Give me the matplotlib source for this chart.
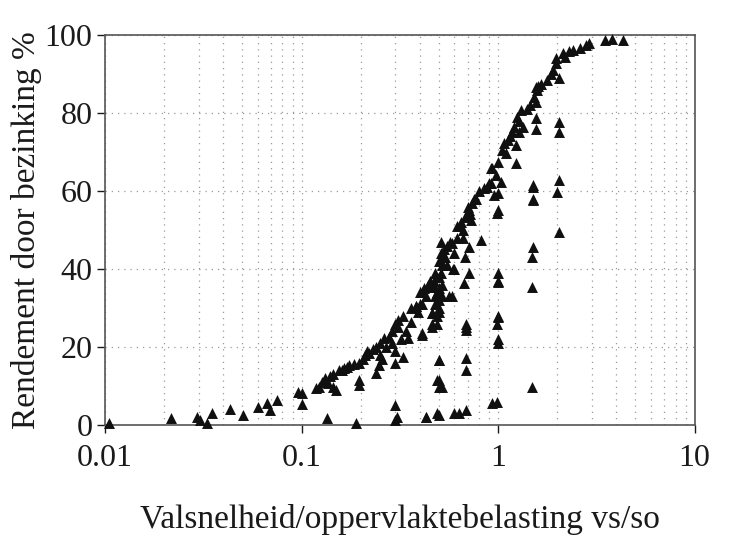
import matplotlib
matplotlib.use("Agg")
import matplotlib.pyplot as plt
from matplotlib.ticker import FixedLocator, NullFormatter

plt.rcParams['font.family'] = ['Liberation Serif', 'DejaVu Serif']

vs_so = [
    0.0105, 0.0216, 0.0293, 0.0304, 0.0329, 0.0349, 0.0431, 0.0502, 0.0598, 0.0664,
    0.0688, 0.0747, 0.0965, 0.100, 0.100, 0.119, 0.134, 0.19,
    0.123, 0.131, 0.136, 0.144, 0.150, 0.156, 0.165, 0.175, 0.185, 0.197,
    0.197, 0.197, 0.21, 0.216, 0.23, 0.24, 0.24, 0.248, 0.257, 0.264,
    0.28, 0.29, 0.30, 0.30, 0.30, 0.31, 0.32, 0.33, 0.34, 0.35,
    0.30, 0.30, 0.305, 0.36, 0.38, 0.40, 0.40, 0.41, 0.43, 0.46,
    0.46, 0.47, 0.48, 0.49, 0.50, 0.50, 0.50, 0.51, 0.56, 0.59, 0.60,
    0.43, 0.50, 0.63, 0.69, 0.93, 0.99,
    0.49, 0.52, 0.50, 0.69, 0.69, 0.69, 0.69, 0.69,
    1.0, 0.99, 1.0, 1.0, 1.0, 1.0, 1.0, 1.0,
    1.48, 1.48, 1.48, 1.50, 1.50, 1.50,
    0.46, 0.46, 0.46, 0.41, 0.41, 0.41,
    0.50, 0.50, 0.50, 0.50, 0.51, 0.52, 0.52, 0.53, 0.49, 0.48,
    0.58, 0.60, 0.67, 0.68, 0.71, 0.71, 0.58, 0.54, 0.66, 0.68,
    0.71, 0.73, 0.82, 0.77, 0.85, 0.92, 0.95, 1.0, 1.03, 1.0,
    0.99, 0.93, 1.0, 1.07, 1.10, 1.23, 1.23, 1.28,
    0.92, 1.05, 1.20, 1.28, 1.34, 1.31, 1.55, 1.55, 1.55,
    2.04, 2.04, 1.55, 1.58, 1.77, 2.04, 1.96, 1.98, 2.15, 2.2,
    2.4, 2.6, 2.8, 2.9, 3.5, 3.8, 4.3,
    2.04, 2.0, 2.04, 1.5, 1.5,
    0.55, 0.57, 0.62, 0.65, 0.75, 0.80, 0.90, 1.15, 1.40, 1.60, 1.90,
    0.44, 0.45, 0.42, 0.38, 0.33, 0.25, 0.22, 0.16, 0.14, 0.127,
    0.47, 0.53, 0.50, 0.48, 0.51, 0.64, 0.70, 0.74,
    0.49, 0.50, 0.51, 0.49, 0.52, 0.55, 0.60, 0.62, 0.66, 0.72,
    0.25, 0.27, 0.29, 0.31, 0.36, 0.39, 0.43, 0.88, 0.97, 1.12,
    1.18, 1.25, 1.45, 1.52, 1.65, 1.85, 2.3, 0.145, 0.17, 0.205,
]
rendement = [
    0.5, 1.8, 2.0, 1.3, 0.5, 3.0, 4.0, 2.6, 4.6, 5.6,
    3.8, 6.4, 8.5, 5.4, 8.2, 9.5, 1.8, 0.5,
    9.7, 12.0, 10.8, 9.7, 9.0, 14.0, 14.5, 15.4, 15.7, 16.0,
    11.5, 10.3, 18.0, 19.0, 19.5, 20.0, 13.3, 15.4, 17.0, 22.3,
    22.6, 24.0, 26.0, 19.0, 16.0, 27.0, 22.0, 17.5, 24.0, 22.3,
    5.0, 1.3, 2.0, 30.0, 30.5, 31.0, 34.0, 23.0, 2.0, 28.7,
    25.0, 35.4, 39.0, 3.0, 11.5, 9.7, 16.7, 42.0, 33.0, 40.0, 3.0,
    2.0, 2.6, 3.0, 3.8, 5.6, 5.9,
    11.5, 9.7, 16.7, 17.2, 14.0, 24.4, 26.0, 25.0,
    22.0, 26.0, 28.0, 36.7, 39.0, 37.0, 27.7, 21.0,
    9.7, 35.4, 43.0, 45.6, 58.0, 61.5,
    26.0, 28.7, 35.4, 23.6, 34.0, 31.0,
    30.0, 32.0, 35.0, 38.0, 44.0, 36.0, 41.0, 45.0, 28.0, 33.0,
    33.0, 40.0, 36.4, 43.0, 39.0, 45.6, 46.7, 43.0, 48.0, 53.3,
    55.0, 52.6, 47.4, 58.0, 60.8, 62.0, 59.0, 59.5, 62.3, 55.0,
    54.4, 66.0, 67.4, 72.3, 69.7, 71.8, 67.2, 75.0,
    66.0, 70.5, 76.4, 78.0, 76.4, 80.8, 78.7, 76.0, 82.8,
    77.7, 75.0, 86.7, 86.0, 88.5, 89.0, 92.8, 94.0, 95.4, 94.4,
    96.2, 96.7, 97.4, 98.0, 98.7, 99.0, 98.7,
    62.8, 59.7, 49.5, 61.0, 57.7,
    46.0, 47.0, 51.0, 52.0, 58.0, 60.0, 62.0, 74.0, 81.0, 87.0, 91.0,
    36.0, 37.0, 35.0, 30.5, 28.0, 21.0, 18.5, 14.2, 12.5, 11.0,
    37.0, 43.0, 42.0, 31.0, 47.0, 51.0, 56.0, 57.0,
    34.0, 29.0, 39.0, 26.0, 33.0, 41.0, 44.0, 48.0, 50.0, 54.0,
    18.0, 20.0, 21.0, 25.0, 26.5, 29.0, 33.0, 61.0, 64.0, 73.0,
    75.0, 79.0, 82.0, 84.0, 87.5, 90.0, 95.8, 13.0, 14.8, 17.0,
]

x_ticks = [0.01, 0.1, 1, 10]
x_tick_labels = ['0.01', '0.1', '1', '10']
y_ticks = [0, 20, 40, 60, 80, 100]

fig = plt.figure(figsize=(7.32, 5.45), dpi=100)
ax = fig.add_axes([0.1434, 0.2202, 0.8056, 0.7156])

ax.scatter(vs_so, rendement, marker='^', s=62, color='#101010', linewidths=0, zorder=3,
           clip_on=False)

ax.set_xscale('log')
ax.set_xlim(0.01, 10)
ax.set_ylim(0, 100)

ax.set_xticks(x_ticks)
ax.set_xticklabels(x_tick_labels)
minor = [m * d for d in (0.01, 0.1, 1) for m in range(2, 10)]
ax.xaxis.set_minor_locator(FixedLocator(minor))
ax.xaxis.set_minor_formatter(NullFormatter())
ax.set_yticks(y_ticks)

ax.grid(True, which='both', axis='x', linestyle=(0, (1, 4)), color='#9a9a9a', linewidth=0.9)
ax.grid(True, which='major', axis='y', linestyle=(0, (1, 4)), color='#9a9a9a', linewidth=0.9)

ax.tick_params(axis='both', which='major', direction='out', length=6, width=1,
               labelsize=23, colors='#1a1a1a')
ax.tick_params(axis='x', which='minor', length=0)
ax.tick_params(axis='x', pad=8)
ax.tick_params(axis='y', pad=3)

for sp in ax.spines.values():
    sp.set_color('#555555')
    sp.set_linewidth(1.2)

ax.set_xlabel('Valsnelheid/oppervlaktebelasting vs/so', fontsize=24, color='#1a1a1a',
              labelpad=22)
ax.set_ylabel('Rendement door bezinking %', fontsize=24, color='#1a1a1a', labelpad=2)

fig.savefig('out.png', dpi=100)
